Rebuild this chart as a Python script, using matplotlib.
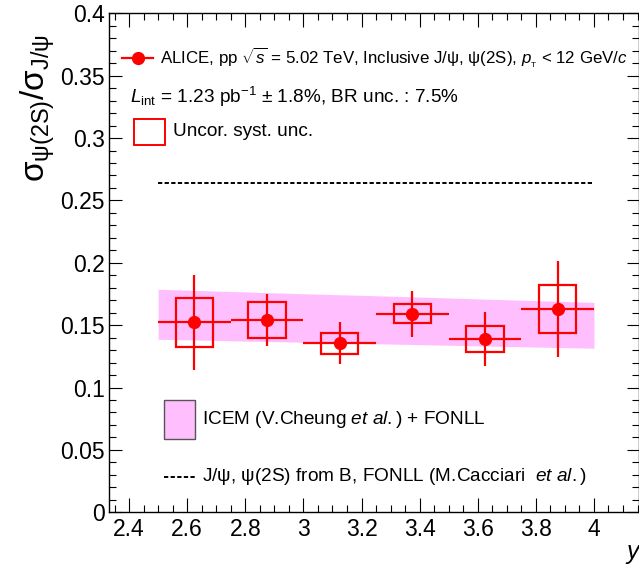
import numpy as np
import matplotlib
matplotlib.use("Agg")
import matplotlib.pyplot as plt
from matplotlib.patches import Rectangle
from matplotlib.lines import Line2D
from matplotlib.ticker import MultipleLocator, FuncFormatter

plt.rcParams['font.family'] = ['Liberation Sans', 'DejaVu Sans']
plt.rcParams['mathtext.fontset'] = 'custom'
plt.rcParams['mathtext.rm'] = 'Liberation Sans'
plt.rcParams['mathtext.it'] = 'Liberation Sans:italic'
plt.rcParams['mathtext.bf'] = 'Liberation Sans:bold'

# ALICE data: psi(2S)/J/psi ratio vs rapidity
y_center = [2.625, 2.875, 3.125, 3.375, 3.625, 3.875]
y_halfwidth = [0.125, 0.125, 0.125, 0.125, 0.125, 0.125]
ratio = [0.1523, 0.1541, 0.1355, 0.1590, 0.1389, 0.1630]
stat_unc = [0.0380, 0.0210, 0.0170, 0.0187, 0.0214, 0.0386]
syst_unc = [0.0194, 0.0142, 0.0083, 0.0076, 0.0101, 0.0191]

# ICEM + FONLL band
band_x = [2.5, 2.75, 3.0, 3.25, 3.5, 3.75, 4.0]
band_hi = [0.1788, 0.1770, 0.1752, 0.1736, 0.1718, 0.1700, 0.1683]
band_lo = [0.1387, 0.1375, 0.1363, 0.1351, 0.1339, 0.1327, 0.1315]

# FONLL non-prompt line
fonll_x = [2.5, 4.0]
fonll_val = 0.264

W, H = 639, 566
fig = plt.figure(figsize=(W / 100, H / 100), dpi=100)
ax = fig.add_axes([109 / W, 1 - 512.3 / H, 530 / W, 499 / H])

ax.fill_between(band_x, band_lo, band_hi, color='#ffbfff', lw=0, zorder=1)
ax.hlines(fonll_val, fonll_x[0], fonll_x[1], colors='black', lw=1.4,
          linestyles=(0, (2.2, 1.2)), zorder=2)

box_hw = 0.064
for xc, r, s in zip(y_center, ratio, syst_unc):
    ax.add_patch(Rectangle((xc - box_hw, r - s), 2 * box_hw, 2 * s, fill=False,
                           edgecolor='red', lw=1.6, zorder=3))

ax.errorbar(y_center, ratio, xerr=y_halfwidth, yerr=stat_unc, fmt='o',
            color='red', ms=8.5, lw=1.6, capsize=0, zorder=4)

ax.set_xlim(2.331, 4.155)
ax.set_ylim(0, 0.4)
ax.xaxis.set_major_locator(MultipleLocator(0.2))
ax.xaxis.set_minor_locator(MultipleLocator(0.05))
ax.yaxis.set_major_locator(MultipleLocator(0.05))
ax.yaxis.set_minor_locator(MultipleLocator(0.01))
fmt = FuncFormatter(lambda v, p: '%g' % round(v, 3))
ax.xaxis.set_major_formatter(fmt)
ax.yaxis.set_major_formatter(fmt)
ax.tick_params(which='both', direction='in', top=True, right=True, width=0.8)
ax.tick_params(axis='x', which='major', length=10, pad=4, labelsize=16.5)
ax.tick_params(axis='x', which='minor', length=5)
ax.tick_params(axis='y', which='major', length=9, pad=3, labelsize=16.5)
ax.tick_params(axis='y', which='minor', length=5)
for sp in ax.spines.values():
    sp.set_linewidth(1.0)

def fx(px):
    return px / W

def fy(py):
    return 1 - py / H

# y label and x label
fig.text(fx(38), fy(108), r'$\mathrm{\sigma}_{\mathrm{\psi(2S)}}/\mathrm{\sigma}_{\mathrm{J/\psi}}$',
         rotation=90, ha='center', va='center', fontsize=24)
fig.text(fx(639), fy(552), 'y', style='italic', ha='right', va='center', fontsize=18)

# legend / labels
fig.add_artist(Line2D([fx(122), fx(153)], [fy(58), fy(58)], color='red', lw=1.6))
fig.add_artist(Line2D([fx(137.5)], [fy(58)], marker='o', color='red', ms=8.5))
fig.text(fx(160), fy(58),
         r'ALICE, pp $\sqrt{s}$ = 5.02 TeV, Inclusive J/ψ, ψ(2S), $p_{_{\rm T}}$ < 12 GeV/$c$',
         ha='left', va='center', fontsize=12.2)
fig.text(fx(130), fy(97), r'$L_{\rm int}$ = 1.23 pb$^{-1}$ $\pm$ 1.8%, BR unc. : 7.5%',
         ha='left', va='center', fontsize=13.7)
fig.add_artist(Rectangle((fx(134), fy(145)), fx(165) - fx(134), fy(119) - fy(145),
                         transform=fig.transFigure, fill=False, edgecolor='red', lw=1.4))
fig.text(fx(173), fy(132), 'Uncor. syst. unc.', ha='left', va='center', fontsize=13.7)

fig.add_artist(Rectangle((fx(164), fy(439)), fx(195) - fx(164), fy(400) - fy(439),
                         transform=fig.transFigure, facecolor='#ffbfff',
                         edgecolor='#555555', lw=1.0))
fig.text(fx(202), fy(419.5), r'ICEM (V.Cheung $et\ al.$) + FONLL',
         ha='left', va='center', fontsize=13.7)
fig.add_artist(Line2D([fx(164), fx(196)], [fy(476.6), fy(476.6)], color='black',
                      lw=1.4, ls=(0, (2.2, 1.2))))
fig.text(fx(202), fy(476.6), r'J/ψ, ψ(2S) from B, FONLL (M.Cacciari  $et\ al.$)',
         ha='left', va='center', fontsize=13.7)

fig.savefig('out.png', dpi=100)
